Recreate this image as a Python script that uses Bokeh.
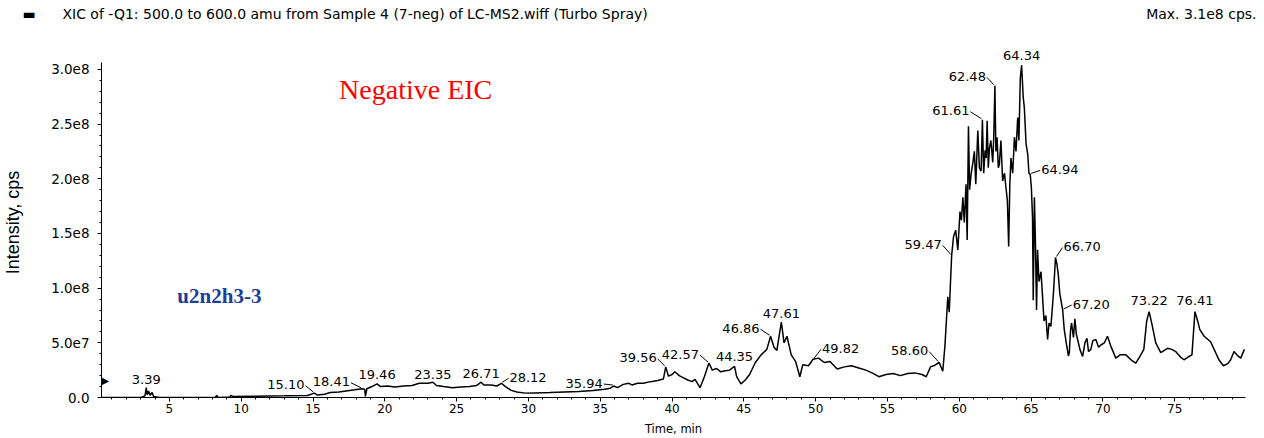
from bokeh.plotting import figure
from bokeh.models import Range1d, FixedTicker, Label, Title
from bokeh.embed import file_html
from bokeh.resources import INLINE

# ---------------- data ----------------
SCALE = 1e7  # intensity values below are in units of 1e7 cps

time_min = [
    0.30, 3.00, 3.30, 3.39, 3.45, 3.55, 3.65, 3.80, 3.90, 4.10, 4.30, 8.20, 8.30, 8.40,
    9.20, 9.30, 9.40, 11.00, 13.00, 14.60, 15.10, 15.30, 15.80, 16.20, 16.80, 17.30,
    17.90, 18.41, 18.60, 18.65, 18.75, 19.10, 19.46, 19.70, 20.20, 20.70, 21.30, 21.90,
    22.40, 23.00, 23.35, 23.60, 24.10, 24.70, 25.30, 25.90, 26.40, 26.71, 26.90, 27.40,
    27.80, 28.12, 28.40, 28.80, 29.20, 29.80, 30.50, 31.50, 32.50, 33.50, 34.50, 35.30,
    35.70, 35.94, 36.20, 36.60, 37.00, 37.20, 37.60, 38.00, 38.50, 39.00, 39.40, 39.56,
    39.75, 40.00, 40.20, 40.50, 40.80, 41.10, 41.40, 41.60, 41.95, 42.25, 42.57, 42.80,
    43.10, 43.40, 43.70, 44.00, 44.35, 44.50, 44.80, 45.10, 45.40, 45.80, 46.20, 46.60,
    46.86, 47.10, 47.30, 47.61, 47.80, 48.00, 48.30, 48.60, 48.90, 49.10, 49.50, 49.82,
    50.20, 50.60, 51.00, 51.50, 52.00, 52.50, 53.00, 53.50, 54.00, 54.40, 54.90, 55.40,
    55.90, 56.40, 56.90, 57.40, 57.70, 58.00, 58.30, 58.60, 58.85, 59.00, 59.20, 59.30,
    59.47, 59.60, 59.75, 59.90, 60.05, 60.15, 60.25, 60.35, 60.47, 60.55, 60.64, 60.72,
    60.82, 60.95, 61.05, 61.15, 61.29, 61.40, 61.52, 61.61, 61.70, 61.80, 61.87, 61.94,
    62.02, 62.10, 62.20, 62.33, 62.40, 62.48, 62.55, 62.63, 62.72, 62.79, 62.90, 63.02,
    63.15, 63.25, 63.35, 63.44, 63.52, 63.60, 63.72, 63.84, 63.95, 64.07, 64.15, 64.25,
    64.34, 64.45, 64.53, 64.65, 64.77, 64.85, 64.94, 65.02, 65.10, 65.15, 65.23, 65.30,
    65.38, 65.45, 65.55, 65.69, 65.80, 65.90, 66.03, 66.15, 66.25, 66.38, 66.50, 66.57,
    66.70, 66.80, 66.89, 67.00, 67.20, 67.31, 67.45, 67.60, 67.66, 67.75, 67.82, 67.95,
    68.05, 68.15, 68.24, 68.40, 68.59, 68.75, 68.89, 69.00, 69.16, 69.30, 69.51, 69.70,
    69.86, 70.10, 70.32, 70.55, 70.90, 71.20, 71.60, 72.00, 72.29, 72.60, 72.85, 73.05,
    73.22, 73.40, 73.68, 74.03, 74.50, 74.80, 75.07, 75.40, 75.65, 76.00, 76.20, 76.41,
    76.60, 76.75, 77.05, 77.50, 77.85, 78.10, 78.39, 78.70, 78.90, 79.13, 79.40, 79.60,
    79.85,
]

intensity = [
    0.00, 0.00, 0.15, 0.90, 0.25, 0.60, 0.20, 0.45, 0.10, 0.05, 0.00, 0.00, 0.20, 0.00,
    0.05, 0.20, 0.10, 0.12, 0.15, 0.18, 0.40, 0.22, 0.30, 0.45, 0.50, 0.60,
    0.70, 0.80, 0.75, 0.10, 0.80, 1.00, 1.25, 1.00, 1.05, 0.95, 1.05, 1.10,
    1.30, 1.30, 1.40, 1.10, 1.00, 0.90, 0.95, 1.00, 1.10, 1.40, 1.15, 1.15,
    1.05, 1.30, 1.00, 0.65, 0.50, 0.40, 0.42, 0.45, 0.50, 0.55, 0.65, 0.75,
    0.85, 1.05, 0.90, 1.20, 1.30, 1.15, 1.30, 1.30, 1.45, 1.55, 1.70, 2.80,
    1.95, 2.10, 2.35, 2.00, 1.80, 1.60, 1.45, 1.65, 0.90, 1.90, 3.15, 2.50,
    2.65, 2.35, 2.45, 2.50, 2.85, 1.90, 1.25, 1.60, 2.10, 3.20, 3.90, 4.40,
    5.60, 4.60, 4.30, 6.90, 5.00, 5.60, 3.90, 3.30, 1.90, 3.00, 2.90, 3.50,
    3.60, 3.20, 3.30, 2.60, 2.80, 2.90, 2.70, 2.50, 2.20, 1.90, 2.10, 2.20,
    2.00, 2.20, 2.25, 2.10, 1.90, 2.80, 2.95, 3.20, 2.40, 4.70, 9.20, 7.80,
    13.00, 14.70, 15.30, 13.50, 17.00, 16.20, 18.30, 16.00, 19.50, 14.40, 24.80, 19.00,
    20.40, 21.50, 22.50, 19.50, 24.40, 21.00, 20.70, 25.40, 20.50, 22.60, 21.90, 25.30,
    21.00, 22.80, 23.50, 21.50, 23.80, 28.50, 22.50, 23.80, 21.00, 21.30, 23.50, 19.80,
    20.50, 19.20, 18.00, 13.80, 19.50, 21.90, 20.50, 23.80, 22.50, 25.60, 23.50, 29.20,
    30.40, 27.50, 26.50, 23.20, 22.20, 20.50, 20.40, 19.20, 16.50, 8.90, 18.30, 14.40,
    8.00, 13.50, 10.60, 11.50, 9.20, 7.00, 7.50, 5.30, 6.80, 6.50, 8.50, 9.80,
    12.80, 12.20, 11.30, 9.50, 8.00, 6.20, 5.00, 3.80, 4.10, 6.20, 6.80, 5.50,
    7.20, 5.80, 5.30, 4.40, 3.75, 5.00, 5.40, 4.20, 4.40, 5.20, 5.30, 4.60,
    4.80, 5.00, 5.60, 4.70, 3.60, 3.90, 3.90, 3.40, 3.15, 3.80, 4.40, 7.00,
    7.85, 6.80, 5.00, 4.10, 4.50, 4.40, 4.20, 3.70, 3.45, 3.75, 3.90, 7.85,
    7.00, 6.20, 5.60, 5.10, 4.10, 3.40, 2.90, 3.10, 3.45, 4.20, 3.80, 3.60,
    4.40,
]

peak_times = [3.39, 15.10, 18.41, 19.46, 23.35, 26.71, 28.12, 35.94, 39.56, 42.57,
              44.35, 46.86, 47.61, 49.82, 58.60, 59.47, 61.61, 62.48, 64.34, 64.94,
              66.70, 67.20, 73.22, 76.41]

x_ticks = [5, 10, 15, 20, 25, 30, 35, 40, 45, 50, 55, 60, 65, 70, 75]
y_ticks = [0, 5e7, 1e8, 1.5e8, 2e8, 2.5e8, 3e8]
y_tick_labels = ["0.0", "5.0e7", "1.0e8", "1.5e8", "2.0e8", "2.5e8", "3.0e8"]

header_text = "XIC of -Q1: 500.0 to 600.0 amu from Sample 4 (7-neg) of LC-MS2.wiff (Turbo Spray)"
max_text = "Max. 3.1e8 cps."
title_text = "Negative EIC"
sample_text = "u2n2h3-3"
x_label = "Time, min"
y_label = "Intensity, cps"

# ---------------- layout ----------------
W, H = 1264, 438
BL, BR, BT, BB = 99, 19, 46, 40
X0, X1 = 0.273, 79.93
FW, FH = W - BL - BR, H - BT - BB
PXY = 330 / 3e8          # px per cps (3.0e8 spans 330 px)
Y1 = FH / PXY
PXX = FW / (X1 - X0)


def cx(px):  # canvas px -> data x
    return X0 + (px - BL) / PXX


def cy(py):  # canvas px (from top) -> data y
    return (BT + FH - py) / PXY


def sx(x):
    return BL + (x - X0) * PXX


def sy(y):
    return BT + FH - y * PXY


FONT = "DejaVu Sans"

p = figure(width=W, height=H, x_range=Range1d(X0, X1), y_range=Range1d(0, Y1),
           output_backend="svg", toolbar_location=None,
           min_border_left=BL, min_border_right=BR, min_border_top=BT, min_border_bottom=BB)
p.outline_line_color = None
p.grid.visible = False
p.background_fill_color = "white"
p.border_fill_color = "white"

# header as the plot title (one line, padded with non-breaking spaces)
p.title.text = ("\u25ac" + "\u00a0" * 6 + header_text + "\u00a0" * 112 + max_text)
p.title.align = "left"
p.title.offset = 20 - BL
p.title.text_font = FONT
p.title.text_font_size = "14px"
p.title.text_font_style = "normal"
p.title.text_color = "black"
p.title.standoff = 7

# blank spacer between the header and the frame
p.add_layout(Title(text="\u00a0", text_font_size="18px", standoff=0), "above")

y_vals = [v * SCALE for v in intensity]
p.line(time_min, y_vals, line_color="black", line_width=1.5)

xa = p.xaxis[0]
xa.ticker = FixedTicker(ticks=x_ticks, minor_ticks=list(range(1, 80)))
xa.major_tick_out = 4
xa.major_tick_in = 0
xa.minor_tick_out = 2
xa.minor_tick_in = 0
xa.major_label_standoff = 2
xa.major_label_text_font = FONT
xa.major_label_text_font_size = "12px"
xa.major_label_text_color = "black"
xa.axis_line_color = "black"
xa.axis_label = x_label
xa.axis_label_standoff = 6
xa.axis_label_text_font = FONT
xa.axis_label_text_font_size = "11.5px"
xa.axis_label_text_font_style = "normal"
xa.axis_label_text_color = "black"

ya = p.yaxis[0]
ya.ticker = FixedTicker(ticks=y_ticks, minor_ticks=[i * 1e7 for i in range(0, 31)])
ya.major_label_overrides = {t: l for t, l in zip(y_ticks, y_tick_labels)}
ya.bounds = (0, 3.06e8)
ya.major_tick_out = 4
ya.major_tick_in = 0
ya.minor_tick_out = 2
ya.minor_tick_in = 0
ya.major_label_standoff = 8
ya.major_label_text_font = FONT
ya.major_label_text_font_size = "13.5px"
ya.major_label_text_color = "black"
ya.axis_line_color = "black"
ya.axis_label = y_label
ya.axis_label_standoff = 25
ya.axis_label_text_font = "Liberation Sans"
ya.axis_label_text_font_size = "18px"
ya.axis_label_text_font_style = "normal"
ya.axis_label_text_color = "black"


def add_text(px, py, text, align="left", baseline="middle", size="13px", font=FONT,
             color="black", style="normal"):
    p.add_layout(Label(x=cx(px), y=cy(py), text=text, text_align=align,
                       text_baseline=baseline, text_font_size=size, text_font=font,
                       text_color=color, text_font_style=style))


# marker on the y axis
add_text(BL, sy(1.55e7), "\u25b6", align="left", size="10px")

# annotations
add_text(337, 88, title_text, align="left", baseline="alphabetic", size="28px",
         font="Liberation Serif", color="#ff0000")
add_text(175, 296, sample_text, align="left", baseline="alphabetic", size="21px",
         font="Liberation Serif", color="#1a3e9a", style="bold")

# peak labels: (style, dx px, dy px up)
peak_layout = [
    ("above", 0, 8), ("left", -10, 8.5), ("left", -12, 7), ("above", 0, 9),
    ("above", 0, 8), ("above", 0, 9), ("right", 8, 6), ("left", -11, 3),
    ("left", -9, 9), ("left", -10, 9), ("above", 0, 10), ("left", -11, 8),
    ("above", 0, 9), ("right", 9, 11), ("left", -11, 12), ("left", -10, 11),
    ("left", -13, 9), ("left", -9, 9.5), ("above", 0, 10), ("right", 11, 5),
    ("right", 8, 11), ("right", 10, 6), ("above", 0, 11), ("above", 0, 11),
]

lx0, ly0, lx1, ly1 = [], [], [], []
for t, (style, dx, dy) in zip(peak_times, peak_layout):
    i = min(range(len(time_min)), key=lambda k: abs(time_min[k] - t))
    px, py = sx(t), sy(intensity[i] * SCALE)
    tx, ty = px + dx, py - dy
    align = {"above": "center", "left": "right", "right": "left"}[style]
    add_text(tx, ty, f"{t:.2f}", align=align, size="13px")
    if style == "left":
        lx0.append(cx(tx + 1)); ly0.append(cy(ty + 1))
        lx1.append(cx(px - 1)); ly1.append(cy(py - 1))
    elif style == "right":
        lx0.append(cx(px + 1)); ly0.append(cy(py - 1))
        lx1.append(cx(tx - 1)); ly1.append(cy(ty + 1))

p.segment(lx0, ly0, lx1, ly1, line_color="black", line_width=1)

open("out.html", "w").write(file_html(p, INLINE))
